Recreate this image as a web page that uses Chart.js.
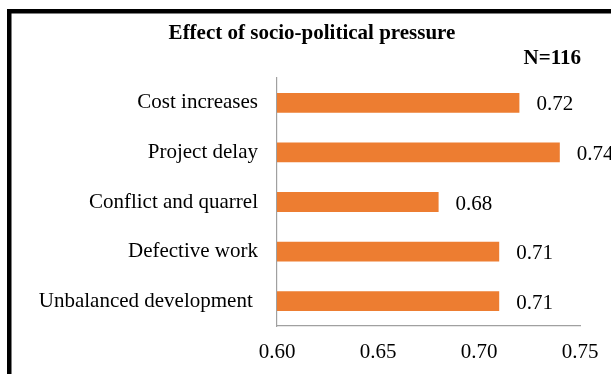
<!DOCTYPE html>
<html lang="en">
<head>
  <meta charset="UTF-8">
  <title>Effect of socio-political pressure</title>
  <script src="https://cdn.jsdelivr.net/npm/chart.js"></script>
  <style>
    body {
      margin: 0;
      background: #ffffff;
      overflow: hidden;
    }
    .chart-box {
      position: relative;
      width: 611px;
      height: 374px;
    }
  </style>
</head>
<body>
  <div class="chart-box">
    <canvas id="pressureChart" width="611" height="374"></canvas>
  </div>

  <script>
    const categories = ['Cost increases', 'Project delay', 'Conflict and quarrel', 'Defective work', 'Unbalanced development '];
    const scores = [0.72, 0.74, 0.68, 0.71, 0.71];
    const xTicks = [0.60, 0.65, 0.70, 0.75];
    const chartTitle = 'Effect of socio-political pressure';
    const sampleNote = 'N=116';

    const serif = "'Liberation Serif', 'Times New Roman', serif";
    const axisGray = '#a0a0a0';

    // heading, sample size and the thick black frame
    const decorations = {
      id: 'decorations',
      afterDraw(chart) {
        const ctx = chart.ctx;
        ctx.save();
        ctx.fillStyle = '#000000';
        ctx.font = 'bold 21px ' + serif;
        ctx.textBaseline = 'middle';
        ctx.textAlign = 'center';
        ctx.fillText(chartTitle, 312, 34);
        ctx.textAlign = 'right';
        ctx.fillText(sampleNote, 581, 59);

        ctx.strokeStyle = '#000000';
        ctx.lineWidth = 4.5;
        ctx.strokeRect(9.25, 11.25, 700, 500);
        ctx.restore();
      }
    };

    // value printed to the right of each bar
    const valueLabels = {
      id: 'valueLabels',
      afterDatasetsDraw(chart) {
        const ctx = chart.ctx;
        const meta = chart.getDatasetMeta(0);
        ctx.save();
        ctx.font = '21px ' + serif;
        ctx.fillStyle = '#000000';
        ctx.textAlign = 'left';
        ctx.textBaseline = 'middle';
        meta.data.forEach((bar, i) => {
          ctx.fillText(scores[i].toFixed(2), bar.x + 17, bar.y + 2);
        });
        ctx.restore();
      }
    };

    const ctx = document.getElementById('pressureChart').getContext('2d');
    new Chart(ctx, {
      type: 'bar',
      data: {
        labels: categories,
        datasets: [{
          data: scores,
          backgroundColor: '#ed7d31',
          borderWidth: 0,
          barPercentage: 0.8,
          categoryPercentage: 0.5
        }]
      },
      options: {
        indexAxis: 'y',
        responsive: false,
        animation: false,
        layout: {
          padding: { left: 20, right: 31, top: 78, bottom: 0 }
        },
        plugins: {
          legend: { display: false },
          tooltip: { enabled: false }
        },
        scales: {
          x: {
            min: 0.60,
            max: 0.75,
            afterBuildTicks(scale) {
              scale.ticks = xTicks.map(v => ({ value: v }));
            },
            afterFit(scale) {
              // keep the plot area fixed; labels overflow into the margins
              scale.height = 48;
              scale.paddingLeft = 0;
              scale.paddingRight = 0;
            },
            ticks: {
              color: '#000000',
              padding: 14,
              font: { family: serif, size: 21 },
              callback: v => v.toFixed(2),
              maxRotation: 0
            },
            grid: { display: false, drawTicks: false },
            border: { display: true, color: axisGray, width: 1.2 }
          },
          y: {
            afterFit(scale) {
              scale.width = 257;
              scale.paddingTop = 0;
              scale.paddingBottom = 0;
            },
            ticks: {
              color: '#000000',
              padding: 19,
              font: { family: serif, size: 21 }
            },
            grid: { display: false, drawTicks: false },
            border: { display: true, color: axisGray, width: 1.2 }
          }
        }
      },
      plugins: [valueLabels, decorations]
    });
  </script>
</body>
</html>
